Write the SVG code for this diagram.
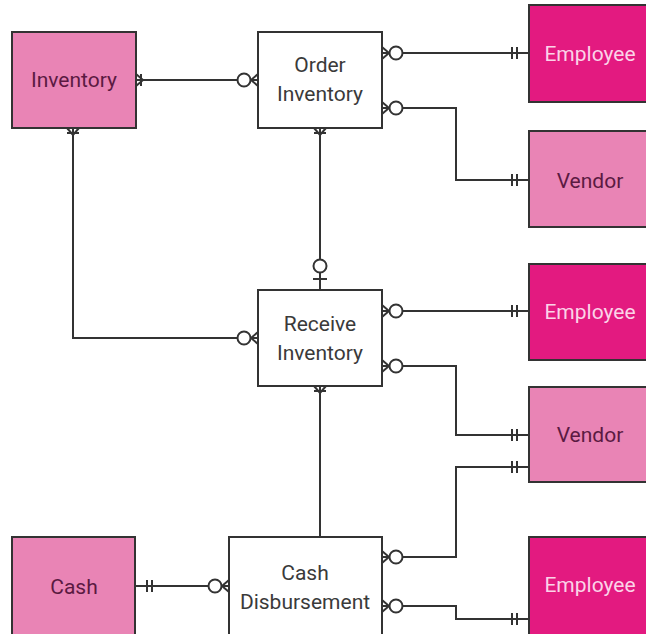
<svg xmlns="http://www.w3.org/2000/svg" xmlns:xlink="http://www.w3.org/1999/xlink" width="646" height="634" viewBox="0 0 646 634">
<style>
.box{stroke:#333;stroke-width:2}
.light{fill:#e984b5}
.dark{fill:#e31a80}
.white{fill:#fff}
.t{font-family:Roboto,"Liberation Sans",sans-serif;font-size:21px;text-anchor:middle}
.tl{fill:#5b1a42}
.td{fill:#fbd3e8}
.tw{fill:#3a3a3a}
.ln{fill:none;stroke:#333;stroke-width:2}
.sym{fill:#fff;stroke:#333;stroke-width:2}
</style>
<defs>
<g id="zm"><path class="ln" d="M0,-6 L-7,0 L0,6"/><circle class="sym" cx="-14" cy="0" r="6.5"/></g>
<g id="om"><path class="ln" d="M0,-6 L-7,0 L0,6 M-5,-6 V6"/></g>
<g id="oo"><path class="ln" d="M-12,-6 V6 M-17,-6 V6"/></g>
<g id="zo"><path class="ln" d="M-11,-7 V7"/><circle class="sym" cx="-24" cy="0" r="6.5"/></g>
</defs>
<rect width="646" height="634" fill="#fff"/>
<g id="connectors">
<path class="ln" d="M136,80 H258"/>
<path class="ln" d="M382,53 H529"/>
<path class="ln" d="M382,108 H456 V180 H529"/>
<path class="ln" d="M73,128 V338 H258"/>
<path class="ln" d="M320,128 V290"/>
<path class="ln" d="M382,311 H529"/>
<path class="ln" d="M382,366 H456 V435 H529"/>
<path class="ln" d="M320,386 V537"/>
<path class="ln" d="M135,586 H229"/>
<path class="ln" d="M382,557 H456 V467 H529"/>
<path class="ln" d="M382,606 H456 V619 H529"/>
<use xlink:href="#om" transform="translate(136,80) rotate(180)"/>
<use xlink:href="#zm" transform="translate(258,80)"/>
<use xlink:href="#zm" transform="translate(382,53) rotate(180)"/>
<use xlink:href="#oo" transform="translate(529,53)"/>
<use xlink:href="#zm" transform="translate(382,108) rotate(180)"/>
<use xlink:href="#oo" transform="translate(529,180)"/>
<use xlink:href="#om" transform="translate(73,128) rotate(-90)"/>
<use xlink:href="#zm" transform="translate(258,338)"/>
<use xlink:href="#om" transform="translate(320,128) rotate(-90)"/>
<use xlink:href="#zo" transform="translate(320,290) rotate(90)"/>
<use xlink:href="#zm" transform="translate(382,311) rotate(180)"/>
<use xlink:href="#oo" transform="translate(529,311)"/>
<use xlink:href="#zm" transform="translate(382,366) rotate(180)"/>
<use xlink:href="#oo" transform="translate(529,435)"/>
<use xlink:href="#om" transform="translate(320,386) rotate(-90)"/>
<use xlink:href="#oo" transform="translate(135,586) rotate(180)"/>
<use xlink:href="#zm" transform="translate(229,586)"/>
<use xlink:href="#zm" transform="translate(382,557) rotate(180)"/>
<use xlink:href="#oo" transform="translate(529,467)"/>
<use xlink:href="#zm" transform="translate(382,606) rotate(180)"/>
<use xlink:href="#oo" transform="translate(529,619)"/>
</g>
<g id="inventory"><rect class="box light" x="12" y="32" width="124" height="96"/><text class="t tl" x="74" y="87">Inventory</text></g>
<g id="order-inventory"><rect class="box white" x="258" y="32" width="124" height="96"/><text class="t tw" x="320" y="72">Order</text><text class="t tw" x="320" y="101">Inventory</text></g>
<g id="employee1"><rect class="box dark" x="529" y="5" width="120" height="97"/><text class="t td" x="590" y="61">Employee</text></g>
<g id="vendor1"><rect class="box light" x="529" y="131" width="120" height="96"/><text class="t tl" x="590" y="188">Vendor</text></g>
<g id="receive-inventory"><rect class="box white" x="258" y="290" width="124" height="96"/><text class="t tw" x="320" y="331">Receive</text><text class="t tw" x="320" y="360">Inventory</text></g>
<g id="employee2"><rect class="box dark" x="529" y="264" width="120" height="96"/><text class="t td" x="590" y="319">Employee</text></g>
<g id="vendor2"><rect class="box light" x="529" y="387" width="120" height="95"/><text class="t tl" x="590" y="442">Vendor</text></g>
<g id="cash"><rect class="box light" x="12" y="537" width="123" height="100"/><text class="t tl" x="74" y="594">Cash</text></g>
<g id="cash-disbursement"><rect class="box white" x="229" y="537" width="153" height="100"/><text class="t tw" x="305" y="580">Cash</text><text class="t tw" x="305" y="609">Disbursement</text></g>
<g id="employee3"><rect class="box dark" x="529" y="537" width="120" height="100"/><text class="t td" x="590" y="592">Employee</text></g>
</svg>
